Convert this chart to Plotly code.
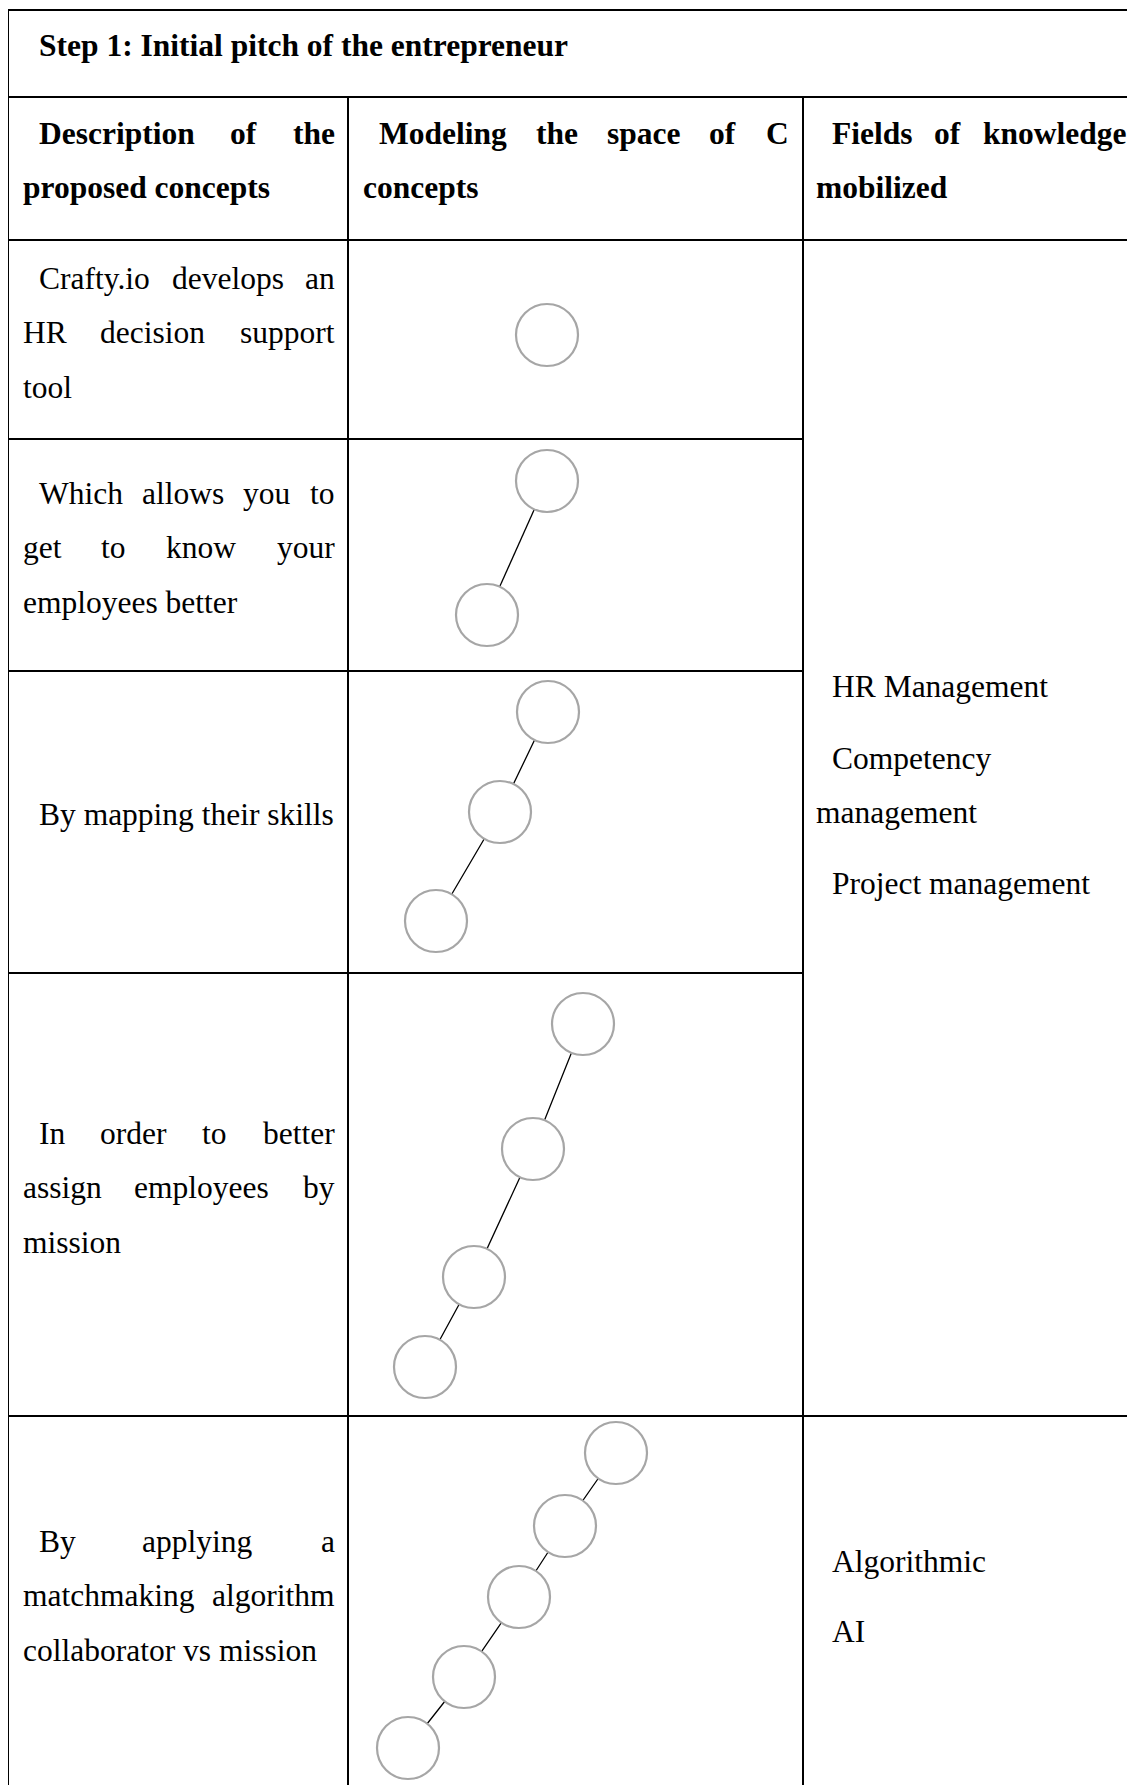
import plotly.graph_objects as go

# ---------------- data ----------------
header_title = "Step 1: Initial pitch of the entrepreneur"
col_headers = [
    ["Description of the", "proposed concepts"],
    ["Modeling the space of C", "concepts"],
    ["Fields of knowledge", "mobilized"],
]
descriptions = [
    ["Crafty.io develops an", "HR decision support", "tool"],
    ["Which allows you to", "get to know your", "employees better"],
    ["By mapping their skills"],
    ["In order to better", "assign employees by", "mission"],
    ["By applying a", "matchmaking algorithm", "collaborator vs mission"],
]
fields_hr = [["HR Management"], ["Competency", "management"], ["Project management"]]
fields_ai = [["Algorithmic"], ["AI"]]

# concept tree node centres per row (pixel space of the table)
nodes_x = [[547], [547, 487], [548, 500, 436], [583, 533, 474, 425], [616, 565, 519, 464, 408]]
nodes_y = [[335], [481, 615], [712, 812, 921], [1024, 1149, 1277, 1367], [1453, 1526, 1597, 1677, 1748]]

# ---------------- layout geometry ----------------
W, H = 1135, 1785
PAGE_MARGIN = 8   # default body margin of the html page
FS = 31.5
FONT = "Liberation Serif, Times New Roman, serif"
PAD = 3           # annotation inner padding compensation

REG = {' ': 250, 'a': 444, 'b': 500, 'c': 444, 'd': 500, 'e': 444, 'f': 333, 'g': 500, 'h': 500,
       'i': 278, 'j': 278, 'k': 500, 'l': 278, 'm': 778, 'n': 500, 'o': 500, 'p': 500, 'q': 500,
       'r': 333, 's': 389, 't': 278, 'u': 500, 'v': 500, 'w': 722, 'x': 500, 'y': 500, 'z': 444,
       '.': 250, ':': 278, 'A': 722, 'B': 667, 'C': 667, 'H': 722, 'I': 333, 'P': 556, 'R': 667,
       'W': 944, 'M': 889, 'S': 556, 'D': 722, 'F': 556}
BOLD = {' ': 250, 'a': 500, 'b': 556, 'c': 444, 'd': 556, 'e': 444, 'f': 333, 'g': 500, 'h': 556,
        'i': 278, 'j': 333, 'k': 556, 'l': 278, 'm': 833, 'n': 556, 'o': 500, 'p': 556, 'q': 556,
        'r': 444, 's': 389, 't': 333, 'u': 556, 'v': 500, 'w': 722, 'x': 500, 'y': 500, 'z': 444,
        ':': 333, '.': 250, '1': 500, 'C': 722, 'D': 722, 'F': 611, 'M': 944, 'S': 556, 'I': 389}


def tw(s, bold=False):
    t = BOLD if bold else REG
    return sum(t.get(c, 500) for c in s) * FS / 1000.0


annotations = []


def add_word(x, y, s, bold=False, anchor="left"):
    txt = "<b>%s</b>" % s if bold else s
    xx = x - PAD if anchor == "left" else x + PAD
    annotations.append(dict(x=xx, y=y, xref="x", yref="y", text=txt, showarrow=False,
                            xanchor=anchor, yanchor="middle",
                            font=dict(family=FONT, size=FS, color="black")))


def add_line(s, y, left, right, justify, bold=False):
    words = s.split(" ")
    if not justify or len(words) == 1:
        add_word(left, y, s, bold)
        return
    ws = [tw(w, bold) for w in words]
    gap = (right - left - sum(ws)) / (len(words) - 1)
    x = left
    for i, (w, wd) in enumerate(zip(words, ws)):
        if i == len(words) - 1:
            add_word(right, y, w, bold, anchor="right")
        else:
            add_word(x, y, w, bold)
        x += wd + gap


def add_paragraph(lines, y0, left, indent, right, step, bold=False):
    y = y0
    for i, ln in enumerate(lines):
        lft = left + indent if i == 0 else left
        add_line(ln, y, lft, right, justify=(i < len(lines) - 1), bold=bold)
        y += step
    return y


STEP = 54.6
col_left = [24, 364, 817]
col_right = [334, 788, 1126]
INDENT = 16

# header row
add_word(40, 45, header_title, bold=True)
# column headers
for c, lines in enumerate(col_headers):
    add_paragraph(lines, 133, col_left[c], INDENT, col_right[c], STEP, bold=True)
# descriptions
desc_y0 = [278, 493, 814, 1133, 1541]
for lines, y0 in zip(descriptions, desc_y0):
    add_paragraph(lines, y0, col_left[0], INDENT, col_right[0], STEP)
# fields
hr_y0 = [686, 758, 883]
for lines, y0 in zip(fields_hr, hr_y0):
    add_paragraph(lines, y0, col_left[2], INDENT, col_right[2], STEP)
ai_y0 = [1561, 1631]
for lines, y0 in zip(fields_ai, ai_y0):
    add_paragraph(lines, y0, col_left[2], INDENT, col_right[2], STEP)

# table grid
X0, X1, X2, XR = 8, 348, 803, 1150
shapes = []
LW = 2


def hline(y, xa, xb):
    shapes.append(dict(type="line", xref="x", yref="y", x0=xa, x1=xb, y0=y, y1=y,
                       line=dict(color="black", width=LW)))


def vline(x, ya, yb):
    shapes.append(dict(type="line", xref="x", yref="y", x0=x, x1=x, y0=ya, y1=yb,
                       line=dict(color="black", width=LW)))


hline(10, X0 - 1, XR)
hline(97, X0, XR)
hline(240, X0, XR)
hline(439, X0, X2)
hline(671, X0, X2)
hline(973, X0, X2)
hline(1416, X0, XR)
vline(X0, 9, H + 5)
vline(X1, 97, H + 5)
vline(X2, 97, H + 5)

fig = go.Figure()
# connectors
for xs, ys in zip(nodes_x, nodes_y):
    if len(xs) > 1:
        fig.add_trace(go.Scatter(x=xs, y=ys, mode="lines", line=dict(color="black", width=1.3),
                                 hoverinfo="skip", showlegend=False))
# nodes
for xs, ys in zip(nodes_x, nodes_y):
    fig.add_trace(go.Scatter(x=xs, y=ys, mode="markers", cliponaxis=False,
                             marker=dict(size=62, color="white", symbol="circle",
                                         line=dict(color="#a6a6a6", width=2.2)),
                             hoverinfo="skip", showlegend=False))

FW = W - PAGE_MARGIN
FH = H - PAGE_MARGIN
fig.update_layout(
    width=FW, height=FH, margin=dict(l=0, r=0, t=0, b=0),
    paper_bgcolor="white", plot_bgcolor="white",
    xaxis=dict(range=[PAGE_MARGIN, PAGE_MARGIN + FW], visible=False, fixedrange=True),
    yaxis=dict(range=[PAGE_MARGIN + FH, PAGE_MARGIN], visible=False, fixedrange=True),
    shapes=shapes, annotations=annotations,
)
fig.write_html("out.html")
